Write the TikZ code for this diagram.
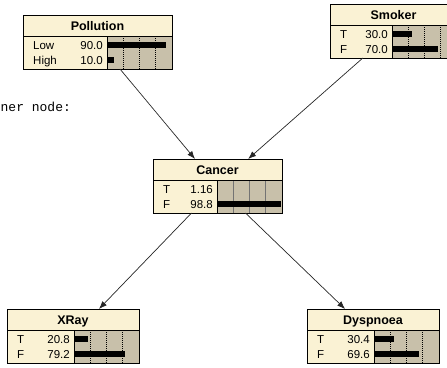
\documentclass[tikz,border=0pt]{standalone}
\usepackage{fontspec}
\setmainfont{Liberation Sans}
\setmonofont{Liberation Mono}
\usetikzlibrary{arrows.meta}
\definecolor{titlecream}{RGB}{250,242,212}
\definecolor{barstone}{RGB}{200,192,170}
\tikzset{
	boxframe/.style={draw=black, line width=0.8pt, minimum height=54pt, inner sep=0pt, outer sep=0pt},
	titletext/.style={font=\bfseries\fontsize{12.5}{12.5}\selectfont, inner sep=0pt},
	rowtext/.style={font=\fontsize{11.5}{11.5}\selectfont, inner sep=0pt},
	griddot/.style={line width=0.8pt, dash pattern=on 1pt off 1pt},
	gridline/.style={line width=0.8pt, color=black!55},
	link/.style={line width=0.7pt, color=black!85, -{Latex[length=8pt,width=6pt]}},
}
% box: name, left, top, text width, title, grid style
\def\beliefbox#1#2#3#4#5#6{%
	\def\nn{#1}\def\nx{#2}\def\ny{#3}\def\bx{#2+#4}%
	\fill[titlecream] (#2,#3) rectangle ({#2+#4+65},{#3+54});
	\fill[barstone] ({#2+#4},{#3+21}) rectangle ({#2+#4+65},{#3+54});
	\foreach \q in {1,2,3}
		\draw[#6] ({#2+#4+\q*16.25},{#3+21}) -- ++(0,33);
	\draw[line width=0.8pt] (#2,{#3+21}) -- ({#2+#4+65},{#3+21});
	\draw[line width=0.8pt] ({#2+#4},{#3+21}) -- ({#2+#4},{#3+54});
	\node[boxframe, minimum width={#4+65}, anchor=north west] (#1) at (#2,#3) {};
	\node[titletext, anchor=base] (#1-title) at ({#2+(#4+65)/2},{#3+15}) {#5};
}
% row: number, label, value, fraction
\def\beliefrow#1#2#3#4{%
	\node[rowtext, anchor=base west] (\nn-lab#1) at ({\nx+10},{\ny+19+15*#1}) {#2};
	\node[rowtext, anchor=base east] (\nn-val#1) at ({\bx-4},{\ny+19+15*#1}) {#3};
	\fill ({\bx},{\ny+12+15*#1}) rectangle ({\bx+#4*65},{\ny+18+15*#1});
}

\begin{document}
\begin{tikzpicture}[x=1pt, y=-1pt]
			%%%%% START %%%%%
			\useasboundingbox (0,0) rectangle (447,367);
			
			\node[font=\ttfamily\fontsize{13}{13}\selectfont, anchor=base west, inner sep=0pt] (note) at (0.5,111) {ner node:};
			
			\beliefbox{pollution}{23}{15}{84}{Pollution}{griddot}
			\beliefrow{1}{Low}{90.0}{0.90}
			\beliefrow{2}{High}{10.0}{0.10}
			
			\beliefbox{smoker}{330}{4}{62}{Smoker}{griddot}
			\beliefrow{1}{T}{30.0}{0.30}
			\beliefrow{2}{F}{70.0}{0.70}
			
			\beliefbox{cancer}{153}{159}{64}{Cancer}{gridline}
			\beliefrow{1}{T}{1.16}{0.0116}
			\beliefrow{2}{F}{98.8}{0.988}
			
			\beliefbox{xray}{7}{309}{67}{XRay}{griddot}
			\beliefrow{1}{T}{20.8}{0.208}
			\beliefrow{2}{F}{79.2}{0.792}
			
			\beliefbox{dyspnoea}{307}{309}{67}{Dyspnoea}{griddot}
			\beliefrow{1}{T}{30.4}{0.304}
			\beliefrow{2}{F}{69.6}{0.696}
			
			\draw[link] (pollution) -- (cancer);
			\draw[link] (smoker) -- (cancer);
			\draw[link] (cancer) -- (xray);
			\draw[link] (cancer) -- (dyspnoea);
			
			%%%%% END %%%%%
\end{tikzpicture}
\end{document}
